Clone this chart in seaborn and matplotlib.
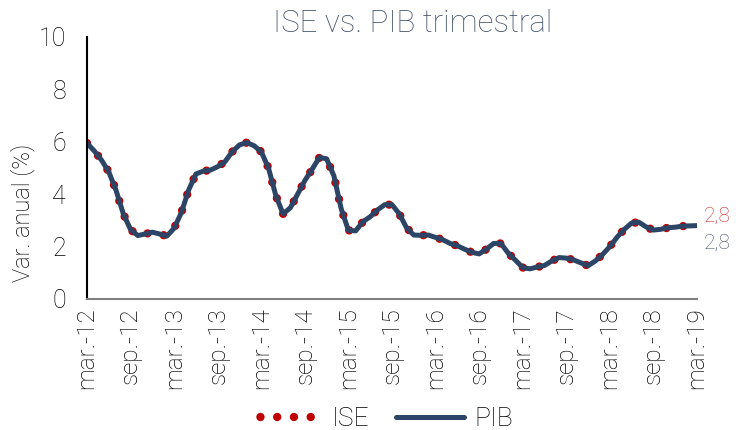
import numpy as np
import pandas as pd
import matplotlib.pyplot as plt
import seaborn as sns
from matplotlib.lines import Line2D

# Monthly annual growth (%), mar-12 .. mar-19
pib_vals = [5.95, 5.65, 5.30, 4.85, 4.15, 3.25, 2.65, 2.42, 2.48, 2.55,
            2.48, 2.40, 2.70, 3.30, 4.16, 4.77, 4.88, 4.92, 5.05, 5.24,
            5.62, 5.88, 5.97, 5.85, 5.62, 4.99, 3.95, 3.25, 3.48, 4.00,
            4.52, 4.95, 5.40, 5.35, 4.70, 3.45, 2.62, 2.60, 2.95, 3.14,
            3.40, 3.60, 3.60, 3.25, 2.72, 2.44, 2.43, 2.44, 2.35, 2.26,
            2.12, 2.03, 1.90, 1.78, 1.72, 1.90, 2.12, 2.12, 1.75, 1.48,
            1.20, 1.15, 1.22, 1.28, 1.45, 1.58, 1.56, 1.49, 1.38, 1.27,
            1.45, 1.70, 2.00, 2.36, 2.66, 2.90, 2.93, 2.75, 2.63, 2.66,
            2.72, 2.74, 2.78, 2.79, 2.80]
# ISE sits right on top of PIB in the picture
ise_vals = [5.95, 5.65, 5.30, 4.85, 4.15, 3.25, 2.65, 2.42, 2.48, 2.55,
            2.48, 2.40, 2.70, 3.30, 4.16, 4.77, 4.88, 4.92, 5.05, 5.24,
            5.62, 5.88, 5.97, 5.85, 5.62, 4.99, 3.95, 3.25, 3.48, 4.00,
            4.52, 4.95, 5.40, 5.35, 4.70, 3.45, 2.62, 2.60, 2.95, 3.14,
            3.40, 3.60, 3.60, 3.25, 2.72, 2.44, 2.43, 2.44, 2.35, 2.26,
            2.12, 2.03, 1.90, 1.78, 1.72, 1.90, 2.12, 2.12, 1.75, 1.48,
            1.20, 1.15, 1.22, 1.28, 1.45, 1.58, 1.56, 1.49, 1.38, 1.27,
            1.45, 1.70, 2.00, 2.36, 2.66, 2.90, 2.93, 2.75, 2.63, 2.66,
            2.72, 2.74, 2.78, 2.79, 2.80]
tick_labels = ['mar.-12', 'sep.-12', 'mar.-13', 'sep.-13', 'mar.-14', 'sep.-14',
               'mar.-15', 'sep.-15', 'mar.-16', 'sep.-16', 'mar.-17', 'sep.-17',
               'mar.-18', 'sep.-18', 'mar.-19']
last_ise = '2,8'
last_pib = '2,8'

df = pd.DataFrame({'mes': np.arange(len(pib_vals)), 'ISE': ise_vals, 'PIB': pib_vals})

sns.set_style('white')
plt.rcParams['font.family'] = ['Roboto', 'DejaVu Sans']
plt.rcParams['font.weight'] = 'light'
plt.rcParams['axes.labelweight'] = 'light'

red = '#C00000'
navy = '#2C4566'
txt = '#000000'
dots = (0, (0.01, 2.0))

fig = plt.figure(figsize=(7.48, 4.30), dpi=100)
ax = fig.add_axes([0.1163, 0.3047, 0.8155, 0.6093])

sns.lineplot(data=df, x='mes', y='ISE', ax=ax, color=red, linewidth=6,
             linestyle=dots, dash_capstyle='round')
sns.lineplot(data=df, x='mes', y='PIB', ax=ax, color=navy, linewidth=3.6,
             solid_capstyle='round', solid_joinstyle='round')

ax.set_xlim(0, len(pib_vals) - 1)
ax.set_ylim(0, 10)
ax.set_yticks([0, 2, 4, 6, 8, 10])
ax.set_yticklabels(['0', '2', '4', '6', '8', '10'], fontsize=18, color=txt)
ax.set_xticks(np.arange(0, len(pib_vals), 6))
ax.set_xticklabels(tick_labels, rotation=90, fontsize=17.5, color=txt)
ax.tick_params(axis='y', length=0, pad=15)
ax.tick_params(axis='x', length=0, pad=6)
ax.set_xlabel('')
ax.set_ylabel('Var. anual (%)', fontsize=17, color=txt, fontweight='light')
ax.yaxis.set_label_coords(-0.085, 0.33)

for side in ['top', 'right']:
    ax.spines[side].set_visible(False)
ax.spines['left'].set_color('black')
ax.spines['left'].set_linewidth(1.5)
ax.spines['bottom'].set_color('#808080')
ax.spines['bottom'].set_linewidth(1.5)

fig.text(0.551, 0.945, 'ISE vs. PIB trimestral', ha='center', va='center',
         fontsize=22.5, color='#44546A')

ax.annotate(last_ise, xy=(1, ise_vals[-1] / 10), xycoords='axes fraction',
            xytext=(5, 7), textcoords='offset points', color='#D03030',
            fontsize=15, va='center')
ax.annotate(last_pib, xy=(1, pib_vals[-1] / 10), xycoords='axes fraction',
            xytext=(5, -13), textcoords='offset points', color='#44546A',
            fontsize=15, va='center')

handles = [Line2D([], [], color=red, linewidth=6, linestyle=(1.0, (0.01, 2.0)),
                  dash_capstyle='round'),
           Line2D([], [], color=navy, linewidth=3.6, solid_capstyle='round')]
fig.legend(handles, ['ISE', 'PIB'], loc='center', bbox_to_anchor=(0.512, 0.025),
           ncol=2, frameon=False, fontsize=19, handlelength=2.6,
           handletextpad=0.4, columnspacing=1.0, labelcolor=txt)

fig.savefig('out.png', dpi=100)
